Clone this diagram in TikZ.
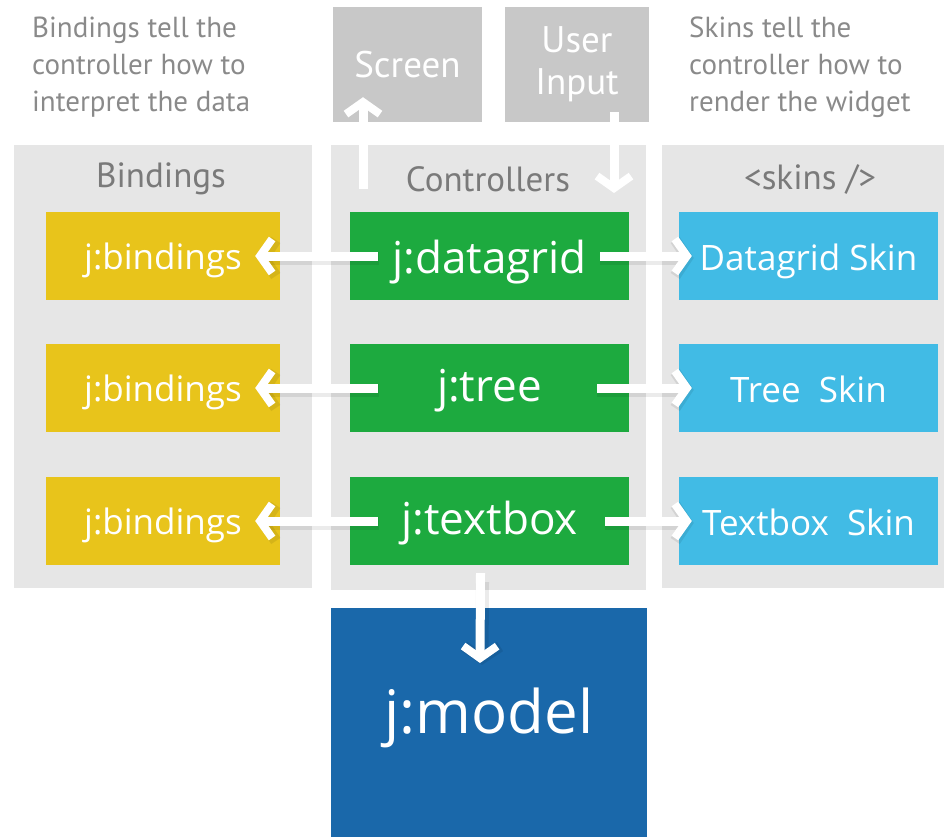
\documentclass[tikz,border=0pt]{standalone}
\usepackage{fontspec}
\setmainfont{PT Sans}
\newfontfamily\boxfont{Open Sans}
\usetikzlibrary{arrows.meta}
\definecolor{panelgrey}{HTML}{E6E6E6}
\definecolor{topgrey}{HTML}{C8C8C8}
\definecolor{captiongrey}{HTML}{8A8A8A}
\definecolor{headgrey}{HTML}{7A7A7A}
\definecolor{bindyellow}{HTML}{E8C41B}
\definecolor{ctrlgreen}{HTML}{1DAA3F}
\definecolor{skinblue}{HTML}{41BBE5}
\definecolor{modelblue}{HTML}{1A68AA}
\tikzset{
  box/.style={rectangle, inner sep=0pt, text=white, font=\boxfont\fontsize{35}{40}\selectfont},
  bindbox/.style={box, fill=bindyellow, minimum width=234pt, minimum height=88pt, text height=32pt, text depth=6pt},
  ctrlbox/.style={box, fill=ctrlgreen, minimum width=279pt, minimum height=88pt, font=\boxfont\fontsize{44}{48}\selectfont, text height=40pt, text depth=5pt},
  skinbox/.style={box, fill=skinblue, minimum width=259pt, minimum height=88pt, text height=33pt, text depth=5pt},
  topbox/.style={box, fill=topgrey, font=\fontsize{37}{42}\selectfont, align=center},
  panel/.style={fill=panelgrey},
  header/.style={text=headgrey, font=\fontsize{35}{40}\selectfont},
  caption/.style={text=captiongrey, align=left, anchor=north west, inner sep=0pt, font=\fontsize{29}{37}\selectfont},
  wa/.style={draw=white, line width=9pt, -{Straight Barb[length=12pt,width=34pt,line width=8pt]}},
  wshadow/.style={draw=black, opacity=0.08, line width=13pt, -{Straight Barb[length=12pt,width=36pt,line width=11pt]}},
}
\begin{document}
\begin{tikzpicture}[x=1pt,y=-1pt]
\useasboundingbox (0,0) rectangle (944,837);
% panels
\fill[panel] (14,145) rectangle (312,588);
\fill[panel] (331,145) rectangle (646,590);
\fill[panel] (662,145) rectangle (944,588);
\node[header] (hb) at (161,179) {Bindings};
\node[header] (hc) at (488,179) {Controllers};
\node[header] (hs) at (810,179) {<skins />};
% captions
\node[caption] (capl) at (32,17) {Bindings tell the\\controller how to\\interpret the data};
\node[caption] (capr) at (689,17) {Skins tell the\\controller how to\\render the widget};
% top boxes
\node[topbox, minimum width=149pt, minimum height=115pt] (screen) at (407.5,64.5) {Screen};
\node[topbox, minimum width=144pt, minimum height=115pt] (input) at (577,64.5) {User\\Input};
% rows
\node[bindbox] (b1) at (163,256) {j:bindings};
\node[bindbox] (b2) at (163,388) {j:bindings};
\node[bindbox] (b3) at (163,521) {j:bindings};
\node[ctrlbox] (c1) at (489.5,256) {j:datagrid};
\node[ctrlbox, text depth=14pt] (c2) at (489.5,388) {j:tree};
\node[ctrlbox, text depth=14pt] (c3) at (489.5,521) {j:textbox};
\node[skinbox] (s1) at (808.5,256) {Datagrid Skin};
\node[skinbox] (s2) at (808.5,388) {Tree\ \ Skin};
\node[skinbox] (s3) at (808.5,521) {Textbox\ \ Skin};
% model
\fill[modelblue] (331,608) rectangle (647,837);
\node[box, font=\boxfont\fontsize{60}{64}\selectfont] (model) at (489,718) {j:model};
\coordinate (mtop) at (489,608);
% arrow shadows
\foreach \r in {1,2,3}{
  \draw[wshadow] ([xshift=29pt,yshift=-2pt]c\r.west) -- ([xshift=-23pt,yshift=-2pt]b\r.east);
}
\draw[wshadow] ([xshift=-29pt,yshift=-2pt]c1.east) -- ([xshift=15pt,yshift=-2pt]s1.west);
\draw[wshadow] ([xshift=-32pt,yshift=-2pt]c2.east) -- ([xshift=15pt,yshift=-2pt]s2.west);
\draw[wshadow] ([xshift=-24pt,yshift=-2pt]c3.east) -- ([xshift=15pt,yshift=-2pt]s3.west);
\draw[wshadow] ([xshift=-7pt,yshift=-17pt]c3.south) -- ([xshift=-7pt,yshift=-57pt]mtop);
% arrows
\foreach \r in {1,2,3}{
  \draw[wa] ([xshift=28pt]c\r.west) -- ([xshift=-25pt]b\r.east);
}
\draw[wa] ([xshift=-29pt]c1.east) -- ([xshift=13pt]s1.west);
\draw[wa] ([xshift=-32pt]c2.east) -- ([xshift=13pt]s2.west);
\draw[wa] ([xshift=-24pt]c3.east) -- ([xshift=13pt]s3.west);
\draw[wa] ([xshift=-9pt,yshift=-8pt]c3.south) -- ([xshift=-9pt,yshift=-55pt]mtop);
% screen / input arrows
\coordinate (ctrtop) at (363,189);
\coordinate (ctrin) at (614,193);
\draw[wa] (ctrtop) -- ([xshift=-44.5pt,yshift=25pt]screen.south);
\draw[wa] ([xshift=37pt,yshift=10pt]input.south) -- (ctrin);
\end{tikzpicture}
\end{document}
